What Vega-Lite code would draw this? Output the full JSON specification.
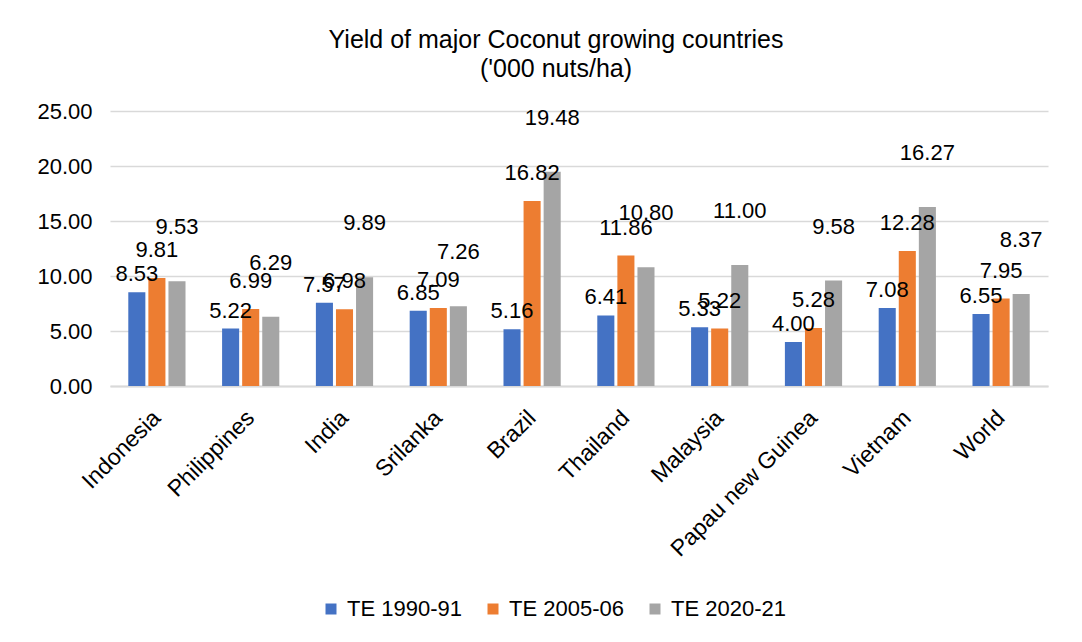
{
  "$schema": "https://vega.github.io/schema/vega-lite/v6.json",
  "autosize": {"type": "none"},
  "width": 938,
  "height": 275,
  "padding": {"left": 110, "top": 111, "right": 34, "bottom": 256},
  "background": "white",
  "title": {
    "text": ["Yield of major Coconut growing countries", "('000 nuts/ha)"],
    "font": "Liberation Sans",
    "fontSize": 25,
    "fontWeight": "normal",
    "color": "#000000",
    "lineHeight": 29,
    "anchor": "middle",
    "dx": -23,
    "offset": 18
  },
  "data": {
    "values": [
      {"country": "Indonesia", "period": "TE 1990-91", "value": 8.53},
      {"country": "Indonesia", "period": "TE 2005-06", "value": 9.81},
      {"country": "Indonesia", "period": "TE 2020-21", "value": 9.53},
      {"country": "Philippines", "period": "TE 1990-91", "value": 5.22},
      {"country": "Philippines", "period": "TE 2005-06", "value": 6.99},
      {"country": "Philippines", "period": "TE 2020-21", "value": 6.29},
      {"country": "India", "period": "TE 1990-91", "value": 7.57},
      {"country": "India", "period": "TE 2005-06", "value": 6.98},
      {"country": "India", "period": "TE 2020-21", "value": 9.89},
      {"country": "Srilanka", "period": "TE 1990-91", "value": 6.85},
      {"country": "Srilanka", "period": "TE 2005-06", "value": 7.09},
      {"country": "Srilanka", "period": "TE 2020-21", "value": 7.26},
      {"country": "Brazil", "period": "TE 1990-91", "value": 5.16},
      {"country": "Brazil", "period": "TE 2005-06", "value": 16.82},
      {"country": "Brazil", "period": "TE 2020-21", "value": 19.48},
      {"country": "Thailand", "period": "TE 1990-91", "value": 6.41},
      {"country": "Thailand", "period": "TE 2005-06", "value": 11.86},
      {"country": "Thailand", "period": "TE 2020-21", "value": 10.80},
      {"country": "Malaysia", "period": "TE 1990-91", "value": 5.33},
      {"country": "Malaysia", "period": "TE 2005-06", "value": 5.22},
      {"country": "Malaysia", "period": "TE 2020-21", "value": 11.00},
      {"country": "Papau new Guinea", "period": "TE 1990-91", "value": 4.00},
      {"country": "Papau new Guinea", "period": "TE 2005-06", "value": 5.28},
      {"country": "Papau new Guinea", "period": "TE 2020-21", "value": 9.58},
      {"country": "Vietnam", "period": "TE 1990-91", "value": 7.08},
      {"country": "Vietnam", "period": "TE 2005-06", "value": 12.28},
      {"country": "Vietnam", "period": "TE 2020-21", "value": 16.27},
      {"country": "World", "period": "TE 1990-91", "value": 6.55},
      {"country": "World", "period": "TE 2005-06", "value": 7.95},
      {"country": "World", "period": "TE 2020-21", "value": 8.37}
    ]
  },
  "encoding": {
    "x": {
      "field": "country",
      "type": "nominal",
      "sort": null,
      "title": null,
      "scale": {"paddingInner": 0.39, "paddingOuter": 0.195},
      "axis": {
        "labelAngle": -45,
        "labelAlign": "right",
        "labelBaseline": "middle",
        "labelFont": "Liberation Sans",
        "labelFontSize": 23,
        "labelColor": "#000000",
        "labelPadding": 28,
        "labelDx": 11,
        "labelLimit": 0,
        "labelOverlap": false,
        "ticks": false,
        "domainColor": "#D9D9D9",
        "domainWidth": 2,
        "grid": false
      }
    },
    "xOffset": {
      "field": "period",
      "type": "nominal",
      "scale": {"paddingInner": 0.15, "paddingOuter": 0}
    },
    "y": {
      "field": "value",
      "type": "quantitative",
      "title": null,
      "scale": {"domain": [0, 25], "nice": false},
      "axis": {
        "values": [0, 5, 10, 15, 20, 25],
        "format": ".2f",
        "labelFont": "Liberation Sans",
        "labelFontSize": 22,
        "labelColor": "#000000",
        "labelPadding": 18,
        "ticks": false,
        "domain": false,
        "gridColor": "#D9D9D9",
        "gridWidth": 1.5
      }
    }
  },
  "layer": [
    {
      "mark": {"type": "bar"},
      "encoding": {
        "color": {
          "field": "period",
          "type": "nominal",
          "title": null,
          "scale": {
            "domain": ["TE 1990-91", "TE 2005-06", "TE 2020-21"],
            "range": ["#4472C4", "#ED7D31", "#A5A5A5"]
          },
          "legend": {
            "orient": "none",
            "direction": "horizontal",
            "legendX": 210,
            "legendY": 487,
            "symbolType": "square",
            "symbolSize": 121,
            "symbolStrokeWidth": 0,
            "labelFont": "Liberation Sans",
            "labelFontSize": 22,
            "labelColor": "#000000",
            "labelOffset": 5,
            "columnPadding": 20
          }
        }
      }
    },
    {
      "transform": [{"filter": "datum.period === 'TE 1990-91'"}],
      "mark": {
        "type": "text",
        "baseline": "bottom",
        "dy": -6,
        "font": "Liberation Sans",
        "fontSize": 22,
        "color": "#000000"
      },
      "encoding": {
        "text": {"field": "value", "type": "quantitative", "format": ".2f"}
      }
    },
    {
      "transform": [{"filter": "datum.period === 'TE 2005-06'"}],
      "mark": {
        "type": "text",
        "baseline": "bottom",
        "dy": -16,
        "font": "Liberation Sans",
        "fontSize": 22,
        "color": "#000000"
      },
      "encoding": {
        "text": {"field": "value", "type": "quantitative", "format": ".2f"}
      }
    },
    {
      "transform": [{"filter": "datum.period === 'TE 2020-21'"}],
      "mark": {
        "type": "text",
        "baseline": "bottom",
        "dy": -42,
        "font": "Liberation Sans",
        "fontSize": 22,
        "color": "#000000"
      },
      "encoding": {
        "text": {"field": "value", "type": "quantitative", "format": ".2f"}
      }
    }
  ],
  "config": {
    "view": {"stroke": null}
  }
}
